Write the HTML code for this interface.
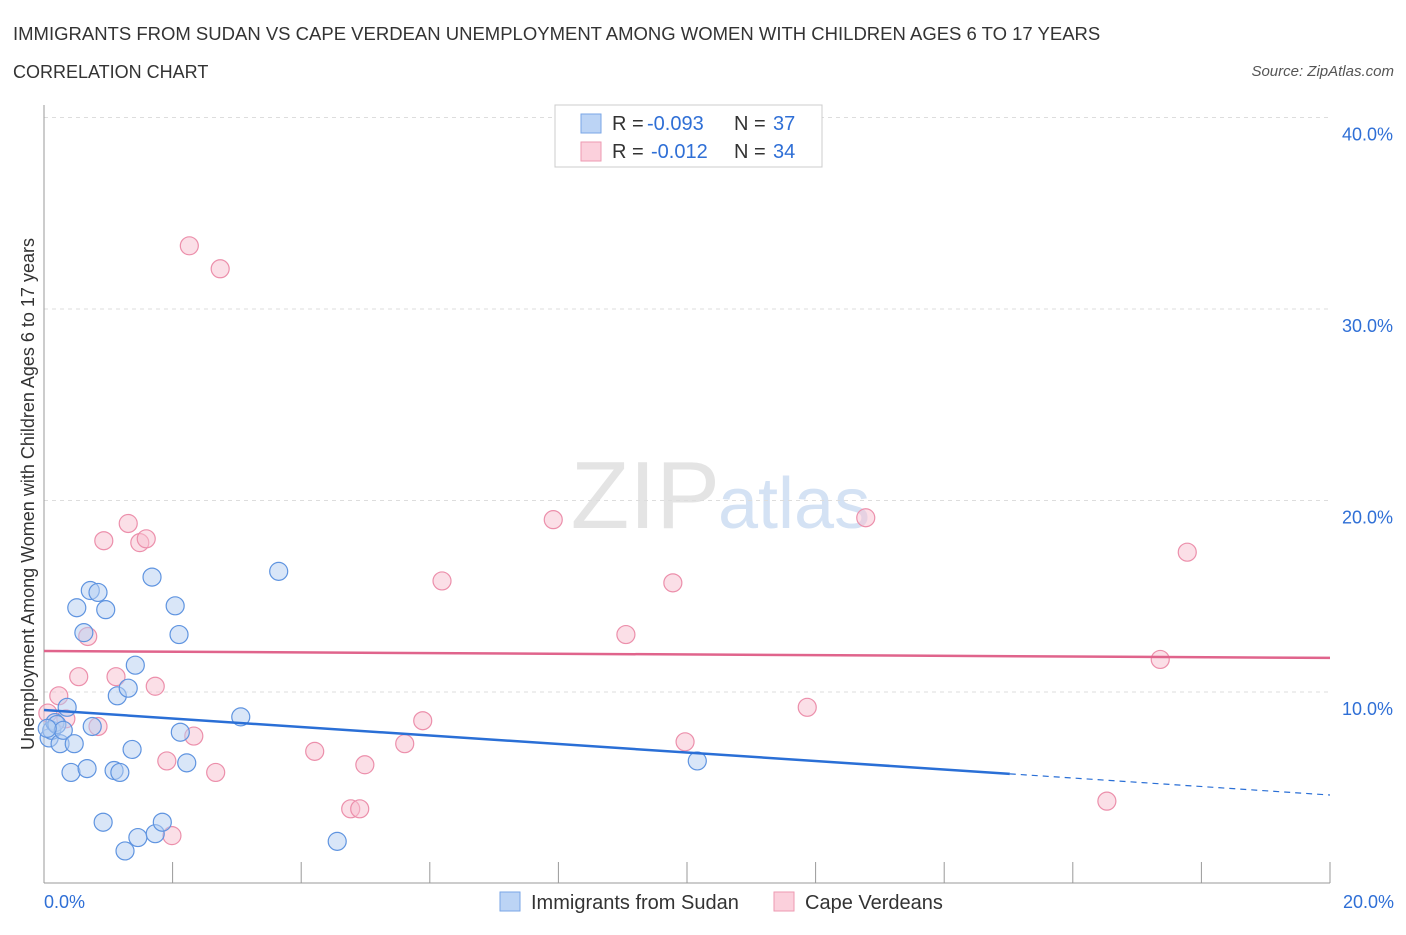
<!DOCTYPE html>
<html><head><meta charset="utf-8"><style>
body{margin:0;background:#fff;font-family:"Liberation Sans",sans-serif}
svg text{font-family:"Liberation Sans",sans-serif}
</style></head><body>
<svg id="c" width="1406" height="930" xmlns="http://www.w3.org/2000/svg">
<text x="13" y="40" font-size="18.5" fill="#333">IMMIGRANTS FROM SUDAN VS CAPE VERDEAN UNEMPLOYMENT AMONG WOMEN WITH CHILDREN AGES 6 TO 17 YEARS</text>
<text x="13" y="78" font-size="18" fill="#333">CORRELATION CHART</text>
<text x="1394" y="76" font-size="15" fill="#555" font-style="italic" text-anchor="end">Source: ZipAtlas.com</text>
<text x="720" y="528" font-size="96" fill="#e4e4e4" text-anchor="end" font-family="Liberation Serif">ZIP</text>
<text x="718" y="528" font-size="72" fill="#d4e2f4">atlas</text>
<text transform="translate(34,494) rotate(-90)" font-size="18" fill="#333" text-anchor="middle">Unemployment Among Women with Children Ages 6 to 17 years</text>
<g id="grid"></g><g id="marks"></g>
<g>
<rect x="555" y="105" width="267" height="62" fill="#fff" stroke="#ccc"/>
<rect x="581" y="114" width="20" height="19" fill="#bcd4f5" stroke="#7aa6e6"/>
<rect x="581" y="142" width="20" height="19" fill="#fbd0dc" stroke="#ee9ab2"/>
<text x="612" y="130" font-size="20" fill="#333">R =</text>
<text x="647" y="130" font-size="20" fill="#2f6fd6">-0.093</text>
<text x="734" y="130" font-size="20" fill="#333">N =</text>
<text x="773" y="130" font-size="20" fill="#2f6fd6">37</text>
<text x="612" y="158" font-size="20" fill="#333">R =</text>
<text x="651" y="158" font-size="20" fill="#2f6fd6">-0.012</text>
<text x="734" y="158" font-size="20" fill="#333">N =</text>
<text x="773" y="158" font-size="20" fill="#2f6fd6">34</text>
</g>
<g>
<rect x="500" y="892" width="20" height="19" fill="#bcd4f5" stroke="#7aa6e6"/>
<text x="531" y="909" font-size="20" fill="#333">Immigrants from Sudan</text>
<rect x="774" y="892" width="20" height="19" fill="#fbd0dc" stroke="#ee9ab2"/>
<text x="805" y="909" font-size="20" fill="#333">Cape Verdeans</text>
</g>
</svg>
<script>
const yTicks=[10,20,30,40];
const yTickLabels=["10.0%","20.0%","30.0%","40.0%"];
const xTickLabels=["0.0%","20.0%"];
const sudanX=[0.08,0.12,0.17,0.20,0.25,0.30,0.36,0.42,0.47,0.51,0.62,0.67,0.72,0.75,0.84,0.96,1.09,1.14,1.18,0.92,1.31,1.37,1.42,1.46,1.26,1.68,1.73,1.84,2.04,2.10,2.12,2.22,3.06,3.65,4.56,10.16,0.05];
const sudanY=[7.6,8.0,8.4,8.3,7.3,8.0,9.2,5.8,7.3,14.4,13.1,6.0,15.3,8.2,15.2,14.3,5.9,9.8,5.8,3.2,10.2,7.0,11.4,2.4,1.7,16.0,2.6,3.2,14.5,13.0,7.9,6.3,8.7,16.3,2.2,6.4,8.1];
const capeX=[0.06,0.23,0.34,0.54,0.68,0.84,0.93,1.12,1.31,1.49,1.59,1.73,1.91,1.99,2.26,2.33,2.67,2.74,4.21,4.77,4.91,4.99,5.61,5.89,6.19,7.92,9.05,9.78,9.97,11.87,12.78,16.53,17.36,17.78];
const capeY=[8.9,9.8,8.6,10.8,12.9,8.2,17.9,10.8,18.8,17.8,18.0,10.3,6.4,2.5,33.3,7.7,5.8,32.1,6.9,3.9,3.9,6.2,7.3,8.5,15.8,19.0,13.0,15.7,7.4,9.2,19.1,4.3,11.7,17.3];
const sudanTrend=[9.06,4.62];
const capeTrend=[12.14,11.78];
const NS="http://www.w3.org/2000/svg";
const xS=v=>44+v/20*1286, yS=v=>883.5-v*19.15;
function mk(t,a,p){const e=document.createElementNS(NS,t);for(const k in a)e.setAttribute(k,a[k]);p.appendChild(e);return e;}
const g=document.getElementById('grid'),m=document.getElementById('marks');
yTicks.forEach((t,i)=>{
 const l=mk('line',{x1:44,x2:1330,y1:yS(t),y2:yS(t),stroke:'#ddd','stroke-dasharray':'4,4'},g);
 
 
 const tx=mk('text',{x:1393,y:yS(t)+23,'font-size':18,fill:'#2f6fd6','text-anchor':'end'},g);tx.textContent=yTickLabels[i];
 
 
});
mk('line',{x1:44,x2:44,y1:105,y2:883,stroke:'#999'},g);
mk('line',{x1:44,x2:1330,y1:883,y2:883,stroke:'#999'},g);
for(let i=0;i<=10;i++){const tk=mk('line',{x1:xS(i*2),x2:xS(i*2),y1:862,y2:883,stroke:'#999'},g);
 
 }
[[0,'start',44],[1,'end',1394]].forEach(([i,a,x])=>{const t=mk('text',{x:x,y:908,'font-size':18,fill:'#2f6fd6','text-anchor':a},g);t.textContent=xTickLabels[i];
 
 });
function pts(X,Y,f,s,n){X.forEach((x,i)=>{const c=mk('circle',{cx:xS(x),cy:yS(Y[i]),r:9,fill:f,'fill-opacity':0.5,stroke:s,'stroke-width':1.2},m);
 
 });}
pts(capeX,capeY,'#f8c0d0','#ec8fab','point-cape-verdean');
pts(sudanX,sudanY,'#b4cdf2','#5f94e0','point-sudan');
const xe=15.02, slope=(sudanTrend[1]-sudanTrend[0])/20;
let l=mk('line',{x1:xS(0),y1:yS(sudanTrend[0]),x2:xS(xe),y2:yS(sudanTrend[0]+slope*xe),stroke:'#2a6fd6','stroke-width':2.5},m);


l=mk('line',{x1:xS(xe),y1:yS(sudanTrend[0]+slope*xe),x2:xS(20),y2:yS(sudanTrend[1]),stroke:'#2a6fd6','stroke-width':1.2,'stroke-dasharray':'6,5'},m);


l=mk('line',{x1:xS(0),y1:yS(capeTrend[0]),x2:xS(20),y2:yS(capeTrend[1]),stroke:'#e0648c','stroke-width':2.5},m);


</script>
</body></html>
